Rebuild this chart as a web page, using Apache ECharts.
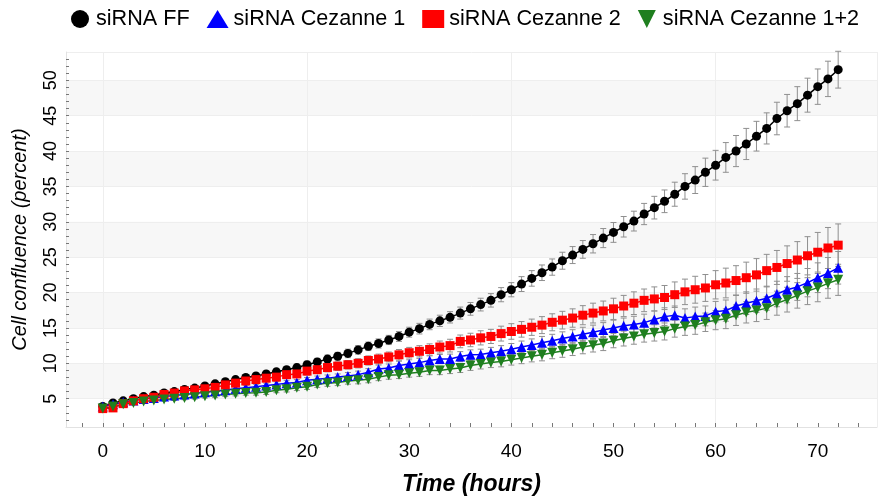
<!DOCTYPE html>
<html>
<head>
<meta charset="utf-8">
<title>Cell confluence</title>
<script src="https://cdn.jsdelivr.net/npm/echarts@6/dist/echarts.min.js"></script>
<style>
  html, body { margin: 0; padding: 0; background: #fff; }
  #main { width: 879px; height: 500px; }
</style>
</head>
<body>
<div id="main"></div>
<script>
// time points (hours)
const hours = [0, 1, 2, 3, 4, 5, 6, 7, 8, 9, 10, 11, 12, 13, 14, 15, 16, 17, 18, 19,
  20, 21, 22, 23, 24, 25, 26, 27, 28, 29, 30, 31, 32, 33, 34, 35, 36, 37, 38, 39,
  40, 41, 42, 43, 44, 45, 46, 47, 48, 49, 50, 51, 52, 53, 54, 55, 56, 57, 58, 59,
  60, 61, 62, 63, 64, 65, 66, 67, 68, 69, 70, 71, 72]

// siRNA FF
const ffValues = [3.9, 4.4, 4.7, 5.0, 5.3, 5.5, 5.8, 6.0, 6.3, 6.5,
  6.8, 7.1, 7.4, 7.7, 8.0, 8.2, 8.5, 8.8, 9.1, 9.4,
  9.8, 10.2, 10.6, 11.0, 11.4, 11.9, 12.4, 12.8, 13.3, 13.8,
  14.4, 14.9, 15.5, 16.0, 16.5, 17.1, 17.7, 18.3, 18.9, 19.7,
  20.4, 21.2, 22.0, 22.8, 23.6, 24.5, 25.3, 26.1, 26.9, 27.7,
  28.5, 29.3, 30.1, 31.1, 32.0, 32.9, 33.9, 35.0, 35.9, 37.0,
  38.0, 39.1, 40.0, 41.0, 42.1, 43.2, 44.6, 45.7, 46.7, 47.9,
  49.1, 50.2, 51.5]
const ffErrors = [0.2, 0.2, 0.2, 0.2, 0.25, 0.25, 0.25, 0.3, 0.3, 0.3,
  0.3, 0.35, 0.35, 0.35, 0.4, 0.4, 0.4, 0.45, 0.45, 0.5,
  0.5, 0.5, 0.55, 0.55, 0.6, 0.6, 0.6, 0.65, 0.65, 0.7,
  0.7, 0.75, 0.75, 0.8, 0.8, 0.85, 0.9, 0.9, 0.95, 1.0,
  1.0, 1.05, 1.1, 1.1, 1.15, 1.2, 1.2, 1.25, 1.3, 1.35,
  1.4, 1.45, 1.4, 1.5, 1.6, 1.6, 1.7, 1.8, 1.9, 2.0,
  2.1, 2.1, 2.2, 2.2, 2.1, 2.2, 2.3, 2.3, 2.4, 2.4,
  2.5, 2.5, 2.6]

// siRNA Cezanne 1
const cez1Values = [3.9, 4.2, 4.5, 4.75, 4.95, 5.1, 5.3, 5.45, 5.6, 5.75,
  5.9, 6.05, 6.2, 6.4, 6.55, 6.7, 6.85, 7.0, 7.2, 7.3,
  7.6, 7.75, 7.9, 8.05, 8.2, 8.4, 8.75, 9.2, 9.35, 9.7,
  9.9, 10.1, 10.4, 10.6, 10.6, 10.95, 11.2, 11.25, 11.5, 11.7,
  12.0, 12.3, 12.6, 12.9, 13.2, 13.5, 13.8, 14.1, 14.4, 14.7,
  15.0, 15.3, 15.5, 15.75, 16.2, 16.6, 16.8, 16.4, 16.6, 16.7,
  17.3, 17.45, 18.1, 18.5, 18.85, 19.2, 19.8, 20.4, 20.8, 21.4,
  22.1, 22.75, 23.5]
const cez1Errors = [0.15, 0.15, 0.2, 0.2, 0.2, 0.2, 0.25, 0.25, 0.25, 0.25,
  0.3, 0.3, 0.3, 0.3, 0.35, 0.35, 0.35, 0.4, 0.4, 0.4,
  0.4, 0.45, 0.45, 0.45, 0.5, 0.5, 0.5, 0.55, 0.55, 0.6,
  0.6, 0.6, 0.65, 0.65, 0.7, 0.7, 0.7, 0.75, 0.75, 0.8,
  0.8, 0.85, 0.85, 0.9, 0.9, 0.95, 0.95, 1.0, 1.0, 1.05,
  1.1, 1.1, 1.15, 1.2, 1.2, 1.25, 1.3, 1.3, 1.35, 1.4,
  1.45, 1.5, 1.55, 1.6, 1.65, 1.7, 1.8, 1.85, 1.9, 2.0,
  2.1, 2.2, 2.3]

// siRNA Cezanne 2
const cez2Values = [3.6, 3.7, 4.3, 4.7, 5.0, 5.2, 5.6, 5.8, 6.1, 6.25,
  6.4, 6.6, 6.95, 7.2, 7.5, 7.7, 7.9, 8.05, 8.4, 8.5,
  8.9, 9.1, 9.4, 9.6, 9.8, 10.0, 10.4, 10.6, 10.9, 11.2,
  11.5, 11.7, 11.95, 12.3, 12.5, 13.1, 13.3, 13.6, 13.8, 14.2,
  14.5, 14.8, 15.1, 15.4, 15.8, 16.1, 16.4, 16.8, 17.1, 17.4,
  17.7, 18.1, 18.5, 18.9, 19.1, 19.3, 19.7, 20.1, 20.4, 20.65,
  21.1, 21.35, 21.7, 22.1, 22.5, 23.1, 23.55, 24.1, 24.6, 25.2,
  25.7, 26.3, 26.7]
const cez2Errors = [0.2, 0.2, 0.2, 0.25, 0.25, 0.25, 0.3, 0.3, 0.3, 0.3,
  0.35, 0.35, 0.4, 0.4, 0.4, 0.45, 0.45, 0.5, 0.5, 0.5,
  0.55, 0.55, 0.6, 0.6, 0.6, 0.65, 0.65, 0.7, 0.7, 0.75,
  0.75, 0.8, 0.8, 0.85, 0.9, 0.9, 0.95, 1.0, 1.0, 1.05,
  1.1, 1.1, 1.15, 1.2, 1.2, 1.25, 1.3, 1.35, 1.4, 1.4,
  1.5, 1.5, 1.6, 1.6, 1.7, 1.7, 1.8, 1.8, 1.9, 1.9,
  2.0, 2.1, 2.1, 2.2, 2.3, 2.3, 2.4, 2.5, 2.6, 2.7,
  2.8, 2.9, 3.0]

// siRNA Cezanne 1+2
const cez12Values = [3.6, 3.9, 4.2, 4.4, 4.6, 4.75, 4.9, 5.0, 5.1, 5.2,
  5.35, 5.45, 5.6, 5.7, 5.8, 5.85, 5.95, 6.2, 6.35, 6.55,
  6.7, 7.0, 7.2, 7.3, 7.5, 7.6, 7.75, 8.05, 8.3, 8.4,
  8.6, 8.75, 9.0, 9.0, 9.2, 9.35, 9.7, 9.9, 10.1, 10.25,
  10.5, 10.75, 11.0, 11.2, 11.5, 11.75, 12.0, 12.3, 12.55, 12.8,
  13.2, 13.5, 13.8, 14.1, 14.3, 14.5, 14.9, 15.2, 15.4, 15.8,
  16.1, 16.3, 16.8, 17.2, 17.45, 17.8, 18.5, 19.0, 19.6, 20.2,
  20.7, 21.3, 21.8]
const cez12Errors = [0.15, 0.15, 0.15, 0.2, 0.2, 0.2, 0.2, 0.25, 0.25, 0.25,
  0.25, 0.3, 0.3, 0.3, 0.3, 0.35, 0.35, 0.35, 0.4, 0.4,
  0.4, 0.4, 0.45, 0.45, 0.45, 0.5, 0.5, 0.5, 0.55, 0.55,
  0.55, 0.6, 0.6, 0.6, 0.65, 0.65, 0.7, 0.7, 0.7, 0.75,
  0.75, 0.8, 0.8, 0.85, 0.85, 0.9, 0.9, 0.95, 0.95, 1.0,
  1.0, 1.05, 1.1, 1.1, 1.15, 1.2, 1.2, 1.25, 1.3, 1.3,
  1.35, 1.4, 1.45, 1.5, 1.55, 1.6, 1.7, 1.75, 1.8, 1.9,
  2.0, 2.1, 2.2]

// axis ticks / labels
const xLabelValues = [0, 10, 20, 30, 40, 50, 60, 70]
const xTickValues = [-2, 0, 2, 4, 6, 8, 10, 12, 14, 16, 18, 20, 22, 24, 26, 28, 30, 32, 34, 36,
  38, 40, 42, 44, 46, 48, 50, 52, 54, 56, 58, 60, 62, 64, 66, 68, 70, 72, 74]
const yLabelValues = [5, 10, 15, 20, 25, 30, 35, 40, 45, 50]
const yTickValues = [2, 3, 4, 5, 6, 7, 8, 9, 10, 11, 12, 13, 14, 15, 16, 17, 18, 19, 20, 21, 22, 23,
  24, 25, 26, 27, 28, 29, 30, 31, 32, 33, 34, 35, 36, 37, 38, 39, 40, 41, 42, 43, 44,
  45, 46, 47, 48, 49, 50, 51, 52, 53]

const downTriangle = 'path://M0,0L10,0L5,10Z'
const font = 'Liberation Sans, Arial, sans-serif'

const chart = echarts.init(document.getElementById('main'))

function pairs(values) {
    return hours.map((h, i) => [h, values[i]])
}

// 误差线 用custom series画
function errorBars(values, errors, color) {
    return {
        type: 'custom',
        z: 1,
        silent: true,
        xAxisIndex: 0,
        yAxisIndex: 0,
        data: hours.map((h, i) => [h, values[i] - errors[i], values[i] + errors[i]]),
        encode: { x: 0, y: [1, 2] },
        renderItem: function (params, api) {
            const lo = api.coord([api.value(0), api.value(1)])
            const hi = api.coord([api.value(0), api.value(2)])
            const cap = 3
            const style = { stroke: color, lineWidth: 1 }
            return {
                type: 'group',
                children: [
                    { type: 'line', shape: { x1: lo[0], y1: lo[1], x2: hi[0], y2: hi[1] }, style: style },
                    { type: 'line', shape: { x1: lo[0] - cap, y1: lo[1], x2: lo[0] + cap, y2: lo[1] }, style: style },
                    { type: 'line', shape: { x1: hi[0] - cap, y1: hi[1], x2: hi[0] + cap, y2: hi[1] }, style: style }
                ]
            }
        }
    }
}

function lineSeries(name, values, color, symbol, size) {
    return {
        name: name,
        type: 'line',
        z: 3,
        xAxisIndex: 0,
        yAxisIndex: 0,
        data: pairs(values),
        symbol: symbol,
        symbolSize: size,
        showSymbol: true,
        itemStyle: { color: color },
        lineStyle: { color: color, width: 1.5 }
    }
}

const option = {
    animation: false,
    textStyle: { fontFamily: font, color: '#000' },
    legend: {
        top: 3,
        left: 66,
        itemWidth: 22,
        itemHeight: 18,
        itemGap: 17,
        textStyle: { fontSize: 21.6, color: '#000', fontFamily: font },
        data: [
            { name: 'siRNA FF', icon: 'circle' },
            { name: 'siRNA Cezanne 1', icon: 'triangle' },
            { name: 'siRNA Cezanne 2', icon: 'rect' },
            { name: 'siRNA Cezanne 1+2', icon: downTriangle }
        ]
    },
    grid: { left: 66, right: 2, top: 52, bottom: 73, containLabel: false, outerBoundsMode: 'none' },
    xAxis: [
        {
            type: 'value',
            min: -3.6,
            max: 75.8,
            name: 'Time (hours)',
            nameLocation: 'middle',
            nameGap: 46,
            nameTextStyle: { fontSize: 23, fontWeight: 'bold', fontStyle: 'italic', color: '#000', fontFamily: font },
            axisLine: { show: true, onZero: false, lineStyle: { color: '#e2e2e2' } },
            axisTick: { show: true, inside: true, length: 4, customValues: xTickValues, lineStyle: { color: '#777' } },
            axisLabel: { customValues: xLabelValues, fontSize: 19, color: '#000', margin: 15, fontFamily: font },
            splitLine: { show: false }
        },
        {
            // 只负责画竖的网格线
            type: 'value',
            min: -3.6,
            max: 75.8,
            position: 'bottom',
            axisLine: { show: false, onZero: false },
            axisTick: { show: false },
            axisLabel: { show: false },
            splitLine: { show: true, lineStyle: { color: '#eeeeee' } }
        }
    ],
    yAxis: [
        {
            type: 'value',
            min: 1,
            max: 54,
            name: 'Cell confluence (percent)',
            nameLocation: 'middle',
            nameGap: 36,
            nameRotate: 90,
            nameTextStyle: { fontSize: 20, fontStyle: 'italic', color: '#000', fontFamily: font },
            axisLine: { show: true, onZero: false, lineStyle: { color: '#e2e2e2' } },
            axisTick: { show: true, inside: true, length: 3, customValues: yTickValues, lineStyle: { color: '#777' } },
            axisLabel: { customValues: yLabelValues, rotate: 90, fontSize: 18, color: '#000', margin: 6, fontFamily: font },
            splitLine: { show: false }
        },
        {
            // 横的网格线和灰白条纹
            type: 'value',
            min: 1,
            max: 54,
            splitNumber: 10,
            position: 'left',
            axisLine: { show: false, onZero: false },
            axisTick: { show: false },
            axisLabel: { show: false },
            splitLine: { show: true, lineStyle: { color: '#eeeeee' } },
            splitArea: { show: true, areaStyle: { color: ['rgba(255,255,255,0)', '#f7f7f7'] } }
        }
    ],
    series: [
        errorBars(ffValues, ffErrors, '#8f8f8f'),
        errorBars(cez1Values, cez1Errors, '#8f8f8f'),
        errorBars(cez2Values, cez2Errors, '#8f8f8f'),
        errorBars(cez12Values, cez12Errors, '#8f8f8f'),
        lineSeries('siRNA FF', ffValues, '#000000', 'circle', 9),
        lineSeries('siRNA Cezanne 1', cez1Values, '#0000ff', 'triangle', 10),
        lineSeries('siRNA Cezanne 2', cez2Values, '#ff0000', 'rect', 9),
        lineSeries('siRNA Cezanne 1+2', cez12Values, '#1f7f1f', downTriangle, 10)
    ]
}

chart.setOption(option)
</script>
</body>
</html>
